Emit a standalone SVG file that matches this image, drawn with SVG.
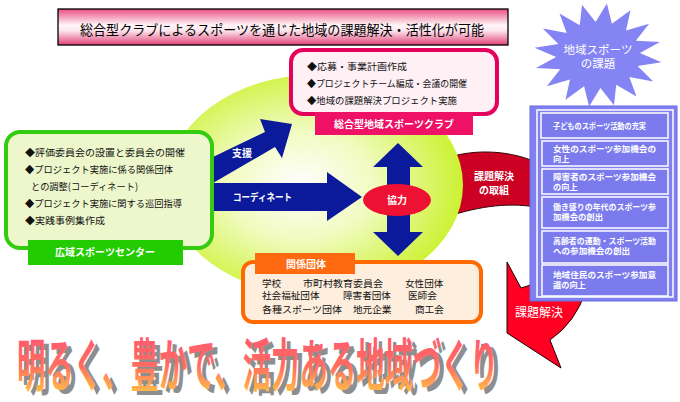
<svg xmlns="http://www.w3.org/2000/svg" width="680" height="402" viewBox="0 0 680 402">
<defs>
<linearGradient id="titleG" x1="0" y1="0" x2="0" y2="1">
<stop offset="0" stop-color="#e94f80"/><stop offset="0.45" stop-color="#fff6f9"/><stop offset="0.6" stop-color="#fde6ee"/><stop offset="1" stop-color="#e04377"/>
</linearGradient>
<radialGradient id="ellG" cx="0.45" cy="0.5" r="0.55">
<stop offset="0" stop-color="#ffffff"/><stop offset="0.45" stop-color="#f1fbc0"/><stop offset="1" stop-color="#ccf232"/>
</radialGradient>
<linearGradient id="bigG" x1="0" y1="0" x2="0" y2="1">
<stop offset="0" stop-color="#ff5277"/><stop offset="0.55" stop-color="#ff6c62"/><stop offset="1" stop-color="#ffd83e"/>
</linearGradient>
<style>
text{font-family:"Noto Sans CJK JP","Noto Sans CJK SC",sans-serif;}
.it{font-size:9.6px;fill:#111;}
.lbl{font-size:10px;font-weight:bold;fill:#fff;text-anchor:middle;}
.cell{font-size:8.2px;font-weight:bold;fill:#fff;}
.cellbox{fill:#7b7bee;stroke:#fff;stroke-width:1.5;}
.blue{fill:#0b1a9a;}
</style>
</defs>
<rect width="680" height="402" fill="#fff"/>

<g id="title">
<rect x="58" y="9" width="450" height="36" fill="url(#titleG)" stroke="#000" stroke-width="1.3"/>
<text x="80" y="35" font-size="13.5" textLength="404" lengthAdjust="spacingAndGlyphs" fill="#000">総合型クラブによるスポーツを通じた地域の課題解決・活性化が可能</text>
</g>

<g id="ribbon">
<path d="M440,160 C470,149 505,149 536,162 L536,207 C505,202 475,207 440,219 Z" fill="#cc0022" stroke="#300" stroke-width="1"/>
</g>

<g id="field">
<ellipse cx="315" cy="185" rx="148" ry="110" fill="url(#ellG)"/>
</g>

<g id="connectors">
<polygon class="blue" points="213,157 265,132 260,119 292,124 282,158 275,147 213,183"/>
<polygon class="blue" points="213,183 327,183 327,172 362,197 327,221 327,211 213,211"/>
<polygon class="blue" points="398,143 423,167 410,167 410,232 423,232 398,256 373,232 387,232 387,167 373,167"/>
<text x="242" y="157" class="lbl">支援</text>
<text x="233" y="201" font-size="10" font-weight="bold" fill="#fff" textLength="59" lengthAdjust="spacingAndGlyphs">コーディネート</text>
</g>

<g id="kyoryoku">
<ellipse cx="397" cy="200" rx="34" ry="16" fill="#ee1133"/>
<text x="397" y="204" class="lbl">協力</text>
</g>

<g id="ribbon-label">
<text x="494" y="180" class="lbl">課題解決</text>
<text x="494" y="194" class="lbl">の取組</text>
</g>

<g id="center">
<rect x="6" y="132" width="206" height="116" rx="14" fill="#eef7cc" stroke="#33cc11" stroke-width="4"/>
<text x="25" y="155.5" class="it" textLength="160" lengthAdjust="spacingAndGlyphs">◆評価委員会の設置と委員会の開催</text>
<text x="25" y="172.5" class="it" textLength="148" lengthAdjust="spacingAndGlyphs">◆プロジェクト実施に係る関係団体</text>
<text x="31" y="189.5" class="it" textLength="107" lengthAdjust="spacingAndGlyphs">との調整(コーディネート)</text>
<text x="25" y="206.5" class="it" textLength="157" lengthAdjust="spacingAndGlyphs">◆プロジェクト実施に関する巡回指導</text>
<text x="25" y="224" class="it" textLength="80" lengthAdjust="spacingAndGlyphs">◆実践事例集作成</text>
<rect x="28" y="240" width="155" height="25" fill="#22cc00"/>
<text x="105" y="256" class="lbl">広域スポーツセンター</text>
</g>

<g id="club">
<rect x="291" y="50" width="206" height="64" rx="12" fill="#fff0f5" stroke="#e6005e" stroke-width="4"/>
<text x="307" y="70" class="it" textLength="100" lengthAdjust="spacingAndGlyphs">◆応募・事業計画作成</text>
<text x="307" y="87" class="it" textLength="160" lengthAdjust="spacingAndGlyphs">◆プロジェクトチーム編成・会議の開催</text>
<text x="307" y="104" class="it" textLength="150" lengthAdjust="spacingAndGlyphs">◆地域の課題解決プロジェクト実施</text>
<rect x="315" y="112" width="158" height="23" fill="#ee1166"/>
<text x="394" y="128" class="lbl">総合型地域スポーツクラブ</text>
</g>

<g id="groups">
<rect x="243" y="262" width="238" height="60" rx="10" fill="#fdeedd" stroke="#ff6a00" stroke-width="4"/>
<rect x="255" y="253" width="100" height="21" fill="#ff6a10"/>
<text x="306" y="268" class="lbl">関係団体</text>
<text x="262" y="286.5" class="it">学校</text>
<text x="303" y="286.5" class="it" textLength="80" lengthAdjust="spacingAndGlyphs">市町村教育委員会</text>
<text x="405" y="286.5" class="it">女性団体</text>
<text x="262" y="299" class="it">社会福祉団体</text>
<text x="343" y="299" class="it">障害者団体</text>
<text x="408" y="299" class="it">医師会</text>
<text x="262" y="312.5" class="it" textLength="80" lengthAdjust="spacingAndGlyphs">各種スポーツ団体</text>
<text x="353" y="312.5" class="it">地元企業</text>
<text x="415" y="312.5" class="it">商工会</text>
</g>

<g id="solve-arrow">
<path d="M507,262 L521,288 L560,276 L586,290 Q576,322 550,340 L561,368 L507,333 Z" fill="#ff0022" stroke="#200" stroke-width="1"/>
<text x="539" y="317" font-size="12" fill="#fff" text-anchor="middle">課題解決</text>
</g>

<g id="issues-star">
<polygon fill="#8484f4" points="606.9,3.5 611.9,23.8 630.5,10.2 626,30.4 649.1,23.7 635.8,40.7 660,42 639.9,53.1 661.4,62.2 637.6,65.9 653.2,81.4 629.3,77 636.5,96.5 616.2,84.7 614,105.3 600.4,87.9 589.1,106.5 584.1,86.2 565.5,99.8 570,79.6 546.9,86.3 560.2,69.3 536,68 556.1,56.9 534.6,47.8 558.4,44.1 542.8,28.6 566.7,33 559.5,13.5 579.8,25.3 582,4.7 595.6,22.1"/>
<text x="598" y="54" font-size="11.5" fill="#fff" text-anchor="middle">地域スポーツ</text>
<text x="598" y="68" font-size="11.5" fill="#fff" text-anchor="middle">の課題</text>
</g>

<g id="issues-panel">
<rect x="530" y="106" width="147" height="195" fill="#8080f0" stroke="#6a6ae0" stroke-width="1"/>
<rect x="537" y="110" width="136" height="187" fill="none" stroke="#fff" stroke-width="1.5"/>
<rect class="cellbox" x="541" y="113" width="127" height="25"/>
<rect class="cellbox" x="542" y="141" width="126" height="25"/>
<rect class="cellbox" x="542" y="169" width="126" height="25"/>
<rect class="cellbox" x="542" y="197" width="126" height="31"/>
<rect class="cellbox" x="542" y="231" width="126" height="32"/>
<rect class="cellbox" x="542" y="265" width="126" height="31"/>
<text x="553" y="129" class="cell" textLength="93" lengthAdjust="spacingAndGlyphs">子どものスポーツ活動の充実</text>
<text x="553" y="151.5" class="cell" textLength="103" lengthAdjust="spacingAndGlyphs">女性のスポーツ参加機会の</text>
<text x="553" y="161.5" class="cell">向上</text>
<text x="553" y="179.5" class="cell" textLength="103" lengthAdjust="spacingAndGlyphs">障害者のスポーツ参加機会</text>
<text x="553" y="189.5" class="cell">の向上</text>
<text x="553" y="209.5" class="cell" textLength="103" lengthAdjust="spacingAndGlyphs">働き盛りの年代のスポーツ参</text>
<text x="553" y="219.5" class="cell" textLength="50" lengthAdjust="spacingAndGlyphs">加機会の創出</text>
<text x="553" y="243.5" class="cell" textLength="103" lengthAdjust="spacingAndGlyphs">高齢者の運動・スポーツ活動</text>
<text x="553" y="253.5" class="cell" textLength="77" lengthAdjust="spacingAndGlyphs">への参加機会の創出</text>
<text x="553" y="277.5" class="cell" textLength="103" lengthAdjust="spacingAndGlyphs">地域住民のスポーツ参加意</text>
<text x="553" y="287.5" class="cell">識の向上</text>
</g>

<g id="slogan">
<text x="22" y="390" font-size="57" font-weight="bold" fill="#8e8e8e" textLength="481" lengthAdjust="spacingAndGlyphs">明るく、豊かで、活力ある地域づくり</text>
<text x="17" y="386" font-size="57" font-weight="bold" fill="url(#bigG)" textLength="481" lengthAdjust="spacingAndGlyphs">明るく、豊かで、活力ある地域づくり</text>
</g>
</svg>
